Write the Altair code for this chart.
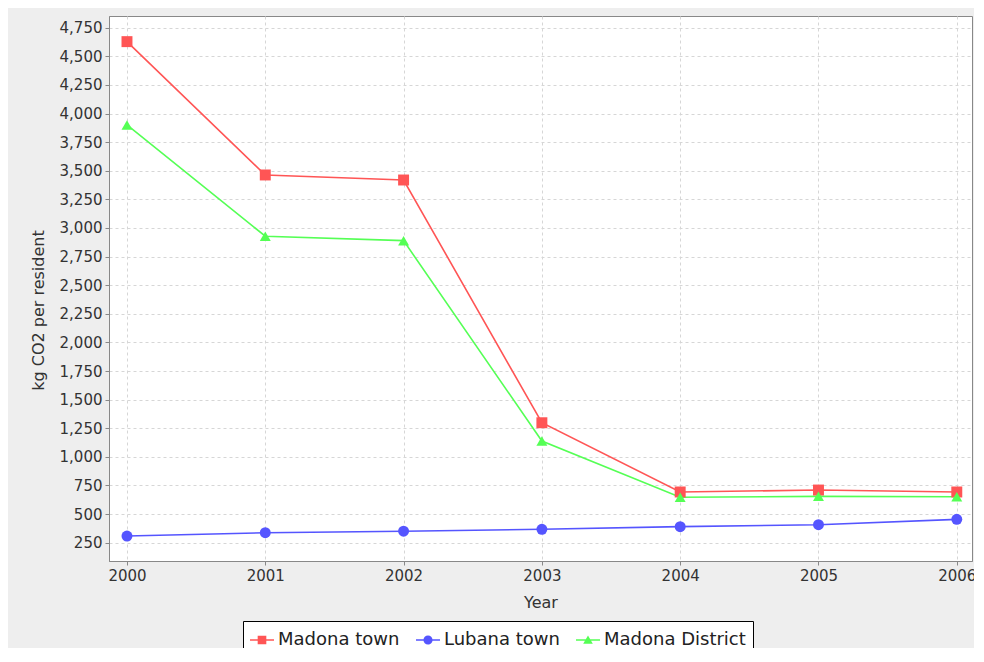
import altair as alt
import pandas as pd

years = [2000, 2001, 2002, 2003, 2004, 2005, 2006]
series_names = ["Madona town", "Lubana town", "Madona District"]
madona_town = [4628, 3463, 3419, 1298, 693, 710, 693]
lubana_town = [308, 337, 350, 367, 390, 407, 454]
madona_district = [3900, 2928, 2889, 1138, 647, 655, 652]
colors = ["#FF5555", "#5555FF", "#55FF55"]
y_ticks = list(range(250, 4751, 250))

rows = []
for name, vals in zip(series_names, [madona_town, lubana_town, madona_district]):
    for yr, v in zip(years, vals):
        rows.append({"year": yr, "value": v, "series": name})
df = pd.DataFrame(rows)

FONT = "DejaVu Sans"

x_enc = alt.X(
    "year:Q",
    scale=alt.Scale(domain=[1999.87, 2006.11], nice=False, zero=False),
    axis=alt.Axis(values=years, format="d", title="Year", titlePadding=11),
)
y_enc = alt.Y(
    "value:Q",
    scale=alt.Scale(domain=[90, 4852], nice=False, zero=False),
    axis=alt.Axis(values=y_ticks, format=",d", title="kg CO2 per resident",
                  titlePadding=13, titleY=294),
)
color_scale = alt.Scale(domain=series_names, range=colors)

lines = alt.Chart(df).mark_line(strokeWidth=1.6).encode(
    x=x_enc, y=y_enc,
    color=alt.Color("series:N", scale=color_scale, legend=None),
)

points = alt.Chart(df).mark_point(filled=True, size=120, opacity=1).encode(
    x=x_enc, y=y_enc,
    color=alt.Color("series:N", scale=color_scale, legend=None),
    shape=alt.Shape("series:N", scale=alt.Scale(domain=series_names,
                                               range=["square", "circle", "triangle-up"]), legend=None),
)

legend_paths = [
    "M-1,-0.055H1V0.055H-1Z M-0.36,-0.36H0.36V0.36H-0.36Z",
    "M-1,-0.055H1V0.055H-1Z M-0.38,0A0.38,0.38 0 1,1 0.38,0A0.38,0.38 0 1,1 -0.38,0Z",
    "M-1,-0.055H1V0.055H-1Z M0,-0.38L0.4,0.32L-0.4,0.32Z",
]
leg = alt.Legend(
    title=None, orient="none", legendX=134, legendY=605, direction="horizontal",
    columns=3, fillColor="white", strokeColor="black", padding=7, cornerRadius=0,
    labelFont=FONT, labelFontSize=18, labelColor="#222", labelLimit=300,
    symbolSize=576, symbolStrokeWidth=0, columnPadding=16, labelOffset=4,
)
legend_layer = alt.Chart(df).transform_filter("false").mark_point(
    filled=True, size=576, opacity=1
).encode(
    x=x_enc, y=y_enc,
    color=alt.Color("series:N", scale=color_scale, legend=leg),
    shape=alt.Shape("series:N", scale=alt.Scale(domain=series_names, range=legend_paths), legend=leg),
)

chart = alt.layer(lines, points, legend_layer).resolve_scale(
    color="independent", shape="independent"
).properties(
    width=863, height=545,
    padding={"left": 101, "top": 8, "right": 2, "bottom": 87},
    autosize="none",
    background="#EEEEEE",
).configure_view(
    fill="white", stroke="#888888", strokeWidth=1
).configure_axis(
    labelFont=FONT, labelFontSize=15, labelColor="#333333",
    titleFont=FONT, titleFontSize=16, titleFontWeight="normal", titleColor="#333333",
    domainColor="#888888", tickColor="#888888", tickSize=4, labelPadding=3,
    gridColor="#d6d6d6", gridDash=[3, 3], gridWidth=1,
)

chart.save("out.html", embed_options={"renderer": "svg", "actions": False})
